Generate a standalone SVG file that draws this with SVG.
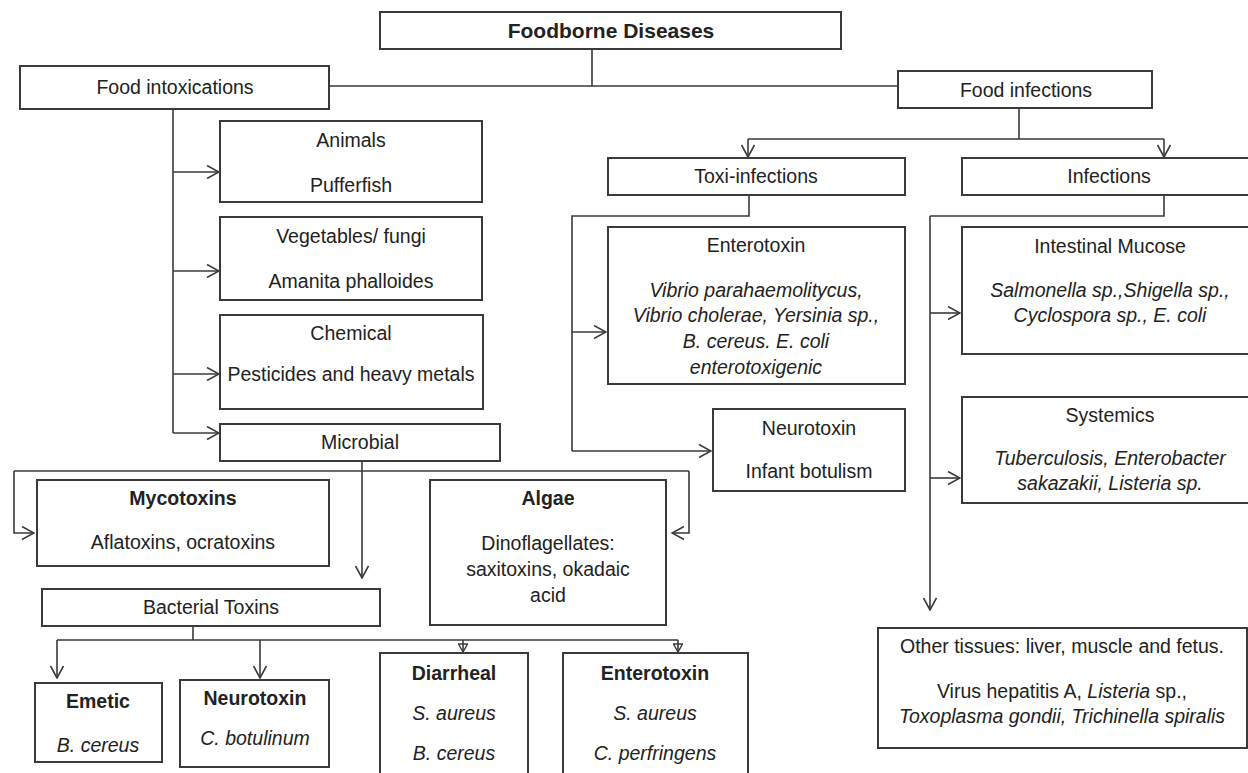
<svg xmlns="http://www.w3.org/2000/svg" width="1248" height="773" viewBox="0 0 1248 773">
<style>
.box{fill:#fff;stroke:#3a3a3a;stroke-width:2}
.ln{fill:none;stroke:#3a3a3a;stroke-width:1.6}
text{font-family:"Liberation Sans",Arial,sans-serif;font-size:19.5px;fill:#222;text-anchor:middle}
.b{font-weight:bold}
.i{font-style:italic}
.t{font-size:21px;font-weight:bold}
</style>
<defs>
<marker id="ar" viewBox="0 0 14 14" refX="13" refY="7" markerWidth="14" markerHeight="14" markerUnits="userSpaceOnUse" orient="auto">
<path d="M1,0.5 L13,7 L1,13.5" fill="none" stroke="#3a3a3a" stroke-width="1.6"/>
</marker>
<marker id="ars" viewBox="0 0 10 10" refX="9" refY="5" markerWidth="10" markerHeight="10" markerUnits="userSpaceOnUse" orient="auto">
<path d="M1,0.5 L9,5 L1,9.5 Z" fill="none" stroke="#3a3a3a" stroke-width="1.4"/>
</marker>
</defs>

<g id="connectors">
<path class="ln" d="M592,49 V86 M329,86 H898"/>
<path class="ln" d="M173,109 V433"/>
<path class="ln" d="M173,172 H219" marker-end="url(#ar)"/>
<path class="ln" d="M173,271 H219" marker-end="url(#ar)"/>
<path class="ln" d="M173,374 H219" marker-end="url(#ar)"/>
<path class="ln" d="M173,433 H219" marker-end="url(#ar)"/>
<path class="ln" d="M362,461 V578" marker-end="url(#ar)"/>
<path class="ln" d="M14,471 H689"/>
<path class="ln" d="M14,471 V533 H34" marker-end="url(#ar)"/>
<path class="ln" d="M689,471 V533 H672" marker-end="url(#ar)"/>
<path class="ln" d="M193,626 V640 M57,640 H678"/>
<path class="ln" d="M57,640 V678" marker-end="url(#ar)"/>
<path class="ln" d="M260,640 V678" marker-end="url(#ar)"/>
<path class="ln" d="M463,640 V652" marker-end="url(#ars)"/>
<path class="ln" d="M678,640 V652" marker-end="url(#ars)"/>
<path class="ln" d="M1019,108 V139 M748,139 H1164"/>
<path class="ln" d="M748,139 V157" marker-end="url(#ar)"/>
<path class="ln" d="M1164,139 V157" marker-end="url(#ar)"/>
<path class="ln" d="M749,195 V216 H572 V451"/>
<path class="ln" d="M572,332 H606" marker-end="url(#ar)"/>
<path class="ln" d="M572,451 H711" marker-end="url(#ar)"/>
<path class="ln" d="M1164,195 V216 H930"/>
<path class="ln" d="M930,216 V610" marker-end="url(#ar)"/>
<path class="ln" d="M930,313 H960" marker-end="url(#ar)"/>
<path class="ln" d="M930,478 H960" marker-end="url(#ar)"/>
</g>

<g id="title"><rect class="box" x="380" y="12" width="461" height="37"/><text class="t" x="611" y="38">Foodborne Diseases</text></g>
<g id="intox"><rect class="box" x="20" y="66" width="309" height="43"/><text x="175" y="94">Food intoxications</text></g>
<g id="infect"><rect class="box" x="898" y="71" width="254" height="37"/><text x="1026" y="97">Food infections</text></g>

<g id="animals"><rect class="box" x="220" y="121" width="262" height="81"/><text x="351" y="147">Animals</text><text x="351" y="192">Pufferfish</text></g>
<g id="vegetables"><rect class="box" x="220" y="217" width="262" height="83"/><text x="351" y="243">Vegetables/ fungi</text><text x="351" y="288">Amanita phalloides</text></g>
<g id="chemical"><rect class="box" x="220" y="315" width="263" height="94"/><text x="351" y="340">Chemical</text><text x="351" y="381">Pesticides and heavy metals</text></g>
<g id="microbial"><rect class="box" x="220" y="424" width="280" height="37"/><text x="360" y="449">Microbial</text></g>

<g id="mycotoxins"><rect class="box" x="37" y="480" width="292" height="86"/><text class="b" x="183" y="505">Mycotoxins</text><text x="183" y="549">Aflatoxins, ocratoxins</text></g>
<g id="algae"><rect class="box" x="430" y="480" width="236" height="145"/><text class="b" x="548" y="505">Algae</text><text x="548" y="550">Dinoflagellates:</text><text x="548" y="576">saxitoxins, okadaic</text><text x="548" y="602">acid</text></g>
<g id="bacterial"><rect class="box" x="42" y="589" width="338" height="37"/><text x="211" y="614">Bacterial Toxins</text></g>

<g id="emetic"><rect class="box" x="35" y="683" width="127" height="79"/><text class="b" x="98" y="708">Emetic</text><text class="i" x="98" y="752">B. cereus</text></g>
<g id="neuro-bact"><rect class="box" x="180" y="680" width="149" height="87"/><text class="b" x="255" y="705">Neurotoxin</text><text class="i" x="255" y="745">C. botulinum</text></g>
<g id="diarrheal"><rect class="box" x="380" y="653" width="148" height="130"/><text class="b" x="454" y="680">Diarrheal</text><text class="i" x="454" y="720">S. aureus</text><text class="i" x="454" y="760">B. cereus</text></g>
<g id="enterotoxin-bact"><rect class="box" x="563" y="653" width="185" height="130"/><text class="b" x="655" y="680">Enterotoxin</text><text class="i" x="655" y="720">S. aureus</text><text class="i" x="655" y="760">C. perfringens</text></g>

<g id="toxi"><rect class="box" x="608" y="158" width="297" height="37"/><text x="756" y="183">Toxi-infections</text></g>
<g id="infections"><rect class="box" x="962" y="158" width="296" height="37"/><text x="1109" y="183">Infections</text></g>

<g id="enterotoxin"><rect class="box" x="608" y="227" width="297" height="157"/><text x="756" y="252">Enterotoxin</text><text class="i" x="756" y="297">Vibrio parahaemolitycus,</text><text class="i" x="756" y="322">Vibrio cholerae, Yersinia sp.,</text><text class="i" x="756" y="348">B. cereus. E. coli</text><text class="i" x="756" y="374">enterotoxigenic</text></g>
<g id="neurotoxin"><rect class="box" x="713" y="409" width="192" height="82"/><text x="809" y="435">Neurotoxin</text><text x="809" y="478">Infant botulism</text></g>

<g id="intestinal"><rect class="box" x="962" y="227" width="296" height="127"/><text x="1110" y="253">Intestinal Mucose</text><text class="i" x="1110" y="297">Salmonella sp.,Shigella sp.,</text><text class="i" x="1110" y="322">Cyclospora sp., E. coli</text></g>
<g id="systemics"><rect class="box" x="962" y="397" width="296" height="106"/><text x="1110" y="422">Systemics</text><text class="i" x="1110" y="465">Tuberculosis, Enterobacter</text><text class="i" x="1110" y="490">sakazakii, Listeria sp.</text></g>
<g id="other"><rect class="box" x="878" y="628" width="369" height="120"/><text x="1062" y="653">Other tissues: liver, muscle and fetus.</text><text x="1062" y="698">Virus hepatitis A, <tspan class="i">Listeria</tspan> sp.,</text><text class="i" x="1062" y="723">Toxoplasma gondii, Trichinella spiralis</text></g>
</svg>
